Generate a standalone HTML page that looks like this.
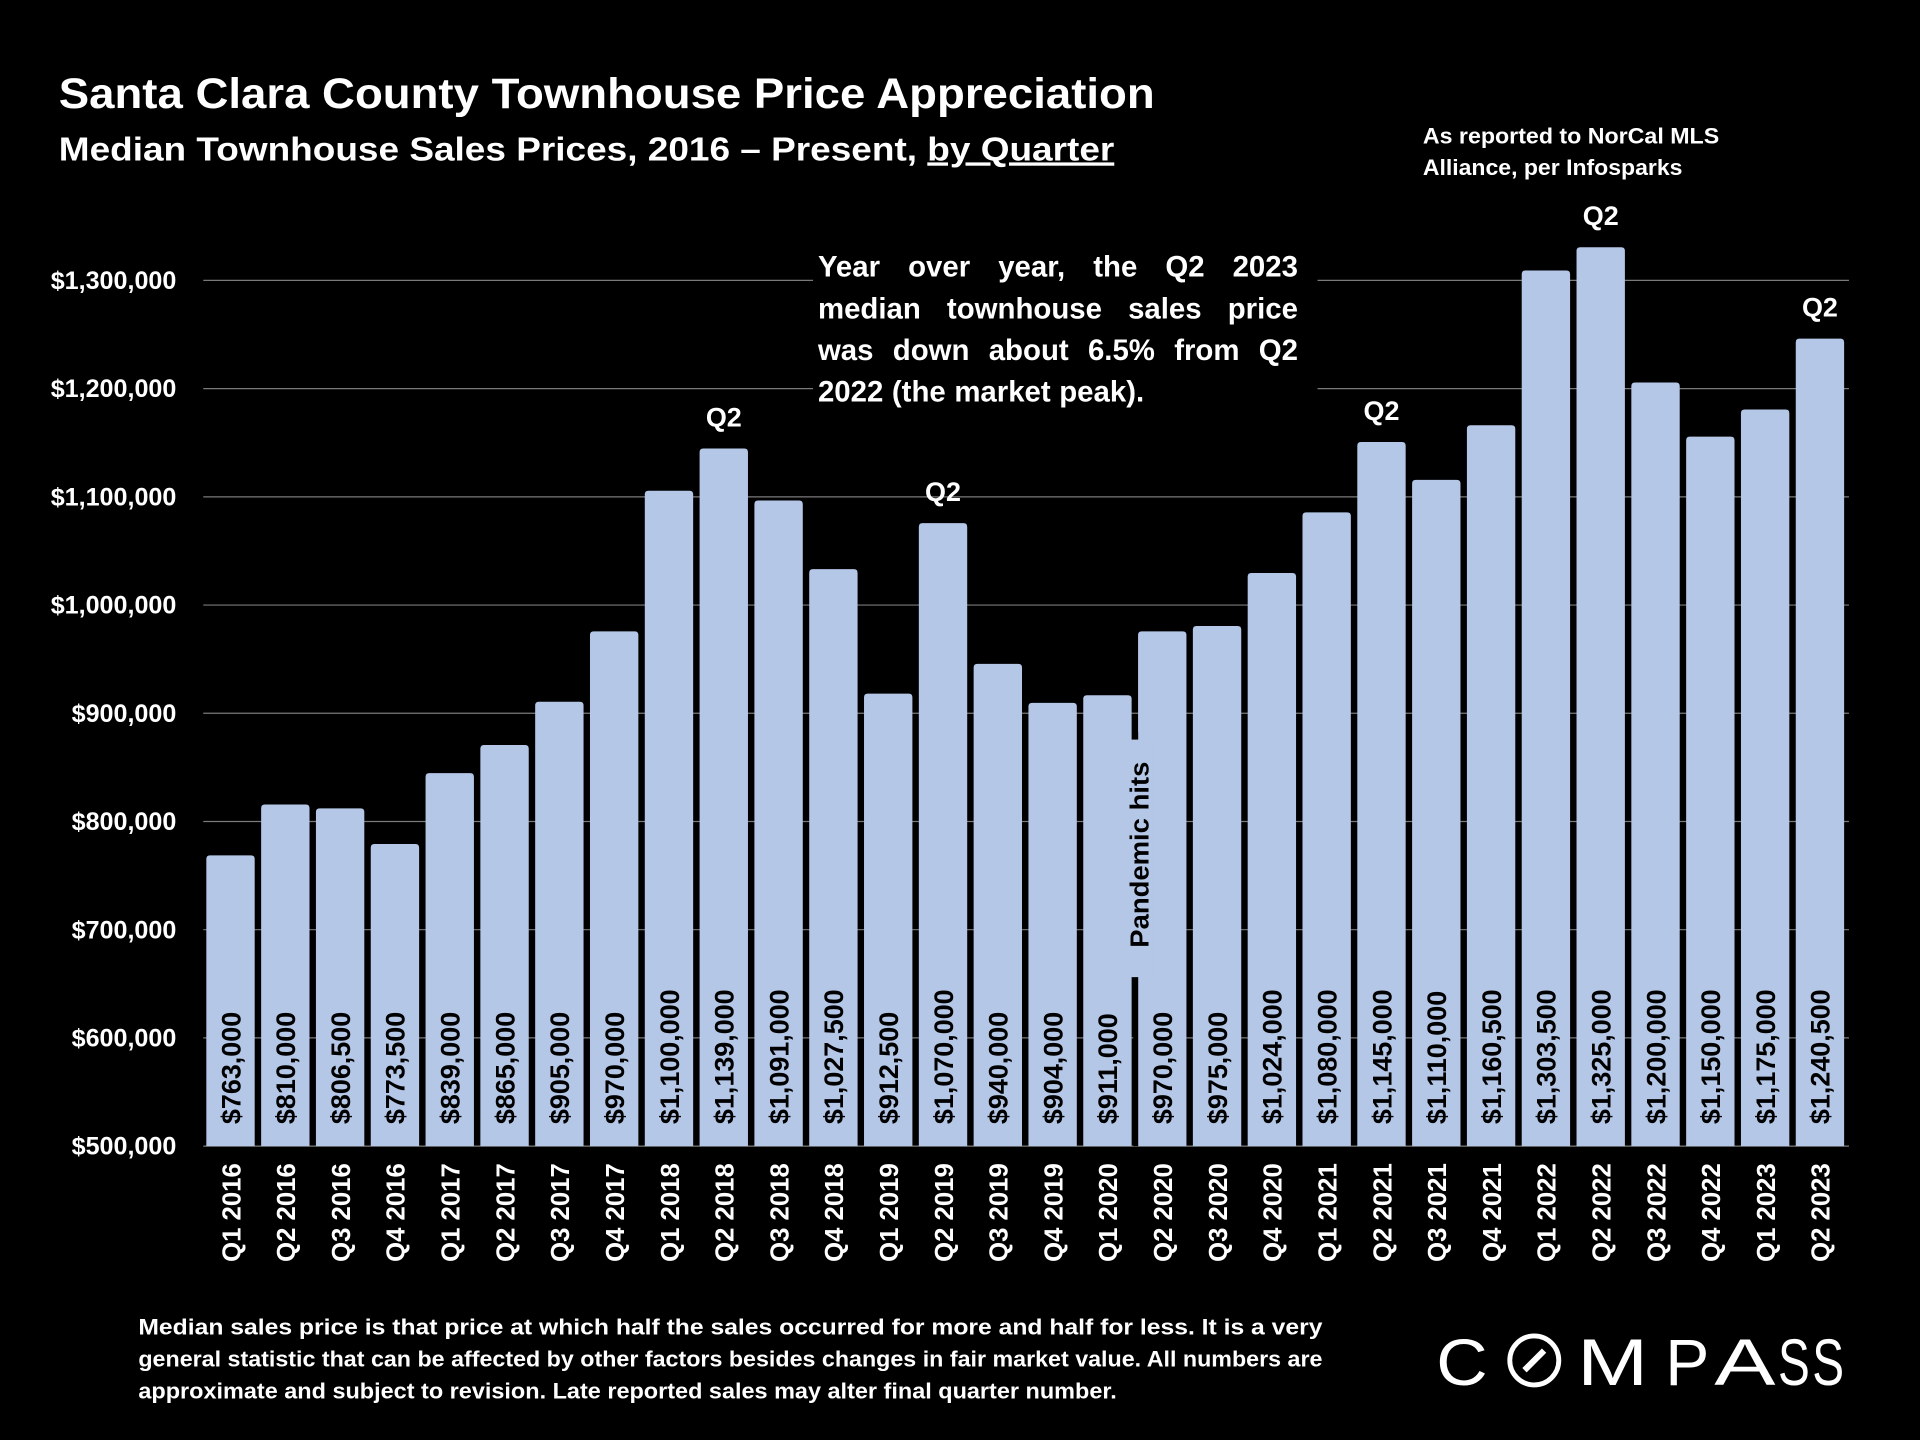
<!DOCTYPE html>
<html><head><meta charset="utf-8"><style>html,body{margin:0;padding:0;background:#000;width:1920px;height:1440px;overflow:hidden}svg{display:block}text{font-family:"Liberation Sans",sans-serif;font-weight:bold}</style></head>
<body>
<svg id="chart" width="1920" height="1440" viewBox="0 0 1568 1176" xmlns="http://www.w3.org/2000/svg">
<rect width="1568" height="1176" fill="#000"/>
<text x="48" y="88" fill="#fff" font-size="35" textLength="895" lengthAdjust="spacingAndGlyphs">Santa Clara County Townhouse Price Appreciation</text>
<text x="48" y="131" fill="#fff" font-size="27" textLength="862" lengthAdjust="spacingAndGlyphs">Median Townhouse Sales Prices, 2016 – Present, <tspan text-decoration="underline">by Quarter</tspan></text>
<text x="1162" y="117" fill="#fff" font-size="18" textLength="242" lengthAdjust="spacingAndGlyphs">As reported to NorCal MLS</text>
<text x="1162" y="143" fill="#fff" font-size="18" textLength="212" lengthAdjust="spacingAndGlyphs">Alliance, per Infosparks</text>
<g id="grid"></g>
<g id="yaxis"></g>
<rect x="664" y="195" width="412" height="150" fill="#000"/>
<g id="annot" fill="#fff" font-size="24"></g>
<g id="bars"></g>
<g id="pandemic">
<rect x="925.5" y="598" width="4" height="338" fill="#000"/>
<rect x="917" y="604" width="24" height="194" fill="#b4c7e7"/>
<text x="0" y="0" transform="translate(938,698) rotate(-90)" text-anchor="middle" font-size="21" fill="#000" textLength="152" lengthAdjust="spacingAndGlyphs">Pandemic hits</text>
</g>
<g fill="#fff" font-size="18">
<text x="113" y="1090" textLength="967" lengthAdjust="spacingAndGlyphs">Median sales price is that price at which half the sales occurred for more and half for less. It is a very</text>
<text x="113" y="1116" textLength="967" lengthAdjust="spacingAndGlyphs">general statistic that can be affected by other factors besides changes in fair market value. All numbers are</text>
<text x="113" y="1142" textLength="799" lengthAdjust="spacingAndGlyphs">approximate and subject to revision. Late reported sales may alter final quarter number.</text>
</g>
<g fill="#fff" font-size="54">
<text style="font-weight:normal" x="1173" y="1131" textLength="42" lengthAdjust="spacingAndGlyphs">C</text>
<circle cx="1253" cy="1111" r="20" fill="none" stroke="#fff" stroke-width="4"/>
<line x1="1245" y1="1119" x2="1261" y2="1103" stroke="#fff" stroke-width="5"/>
<text style="font-weight:normal" x="1288" y="1131" textLength="58" lengthAdjust="spacingAndGlyphs">M</text>
<text style="font-weight:normal" x="1360" y="1131" textLength="36" lengthAdjust="spacingAndGlyphs">P</text>
<text style="font-weight:normal" x="1400" y="1131" textLength="50" lengthAdjust="spacingAndGlyphs">A</text>
<text style="font-weight:normal" x="1452" y="1131" textLength="26" lengthAdjust="spacingAndGlyphs">S</text>
<text style="font-weight:normal" x="1480" y="1131" textLength="26" lengthAdjust="spacingAndGlyphs">S</text>
</g>
<text x="0" y="0" id="measure" font-size="24" fill="none">x</text>
</svg>
<script>
const categories=["Q1 2016","Q2 2016","Q3 2016","Q4 2016","Q1 2017","Q2 2017","Q3 2017","Q4 2017","Q1 2018","Q2 2018","Q3 2018","Q4 2018","Q1 2019","Q2 2019","Q3 2019","Q4 2019","Q1 2020","Q2 2020","Q3 2020","Q4 2020","Q1 2021","Q2 2021","Q3 2021","Q4 2021","Q1 2022","Q2 2022","Q3 2022","Q4 2022","Q1 2023","Q2 2023"];
const values=[763000,810000,806500,773500,839000,865000,905000,970000,1100000,1139000,1091000,1027500,912500,1070000,940000,904000,911000,970000,975000,1024000,1080000,1145000,1110000,1160500,1303500,1325000,1200000,1150000,1175000,1240500];
const valueLabels=["$763,000","$810,000","$806,500","$773,500","$839,000","$865,000","$905,000","$970,000","$1,100,000","$1,139,000","$1,091,000","$1,027,500","$912,500","$1,070,000","$940,000","$904,000","$911,000","$970,000","$975,000","$1,024,000","$1,080,000","$1,145,000","$1,110,000","$1,160,500","$1,303,500","$1,325,000","$1,200,000","$1,150,000","$1,175,000","$1,240,500"];
const yTicks=[500000,600000,700000,800000,900000,1000000,1100000,1200000,1300000];
const yTickLabels=["$500,000","$600,000","$700,000","$800,000","$900,000","$1,000,000","$1,100,000","$1,200,000","$1,300,000"];
const q2Highlights=["Q2 2018","Q2 2019","Q2 2021","Q2 2022","Q2 2023"];
const annotLines=["Year over year, the Q2 2023","median townhouse sales price","was down about 6.5% from Q2","2022 (the market peak)."];
const NS="http://www.w3.org/2000/svg";
const y=v=>936-(v-500000)/100000*88.375;
const x0=168.5,pitch=44.76,bw=39.5;
const xb=i=>x0+i*pitch;
function mk(tag,attrs,parent){const e=document.createElementNS(NS,tag);for(const k in attrs)e.setAttribute(k,attrs[k]);parent.appendChild(e);return e;}
const grid=document.getElementById('grid'),ya=document.getElementById('yaxis'),bars=document.getElementById('bars'),annot=document.getElementById('annot'),meas=document.getElementById('measure');
yTicks.forEach((t,i)=>{
 const l=mk('line',{x1:166,x2:1510,y1:y(t),y2:y(t),stroke:'#7a7a7a','stroke-width':1},grid);
 
 
 const tx=mk('text',{x:144,y:y(t)+7,'text-anchor':'end',fill:'#fff','font-size':20.5},ya);
 tx.textContent=yTickLabels[i];
 
 
});
function wlen(w){meas.textContent=w;return meas.getComputedTextLength();}
annotLines.forEach((ln,li)=>{
 const words=ln.split(' '),yy=226+li*34;
 const last=li===annotLines.length-1;
 const ws=words.map(wlen),sum=ws.reduce((a,b)=>a+b,0);
 const gap=last?7:(392-sum)/(words.length-1);
 let cx=668;
 words.forEach((w,k)=>{
  const t=mk('text',{x:cx,y:yy},annot);
  t.textContent=w;
  
  
  cx+=ws[k]+gap;
 });
});
categories.forEach((c,i)=>{
 const bx=xb(i),top=y(values[i])-5;
 const r=mk('path',{d:`M${bx},936 L${bx},${top+3} Q${bx},${top} ${bx+3},${top} L${bx+bw-3},${top} Q${bx+bw},${top} ${bx+bw},${top+3} L${bx+bw},936 Z`,fill:'#b4c7e7'},bars);
 
 
 const cx=bx+bw/2;
 const vl=mk('text',{transform:`translate(${cx+8},918) rotate(-90)`,fill:'#000','font-size':22},bars);
 vl.textContent=valueLabels[i];
 
 
 const xl=mk('text',{transform:`translate(${cx+8},950) rotate(-90)`,'text-anchor':'end',fill:'#fff','font-size':21},bars);
 xl.textContent=c;
 
 
 if(q2Highlights.includes(c)){
  const q=mk('text',{x:cx,y:top-18,'text-anchor':'middle',fill:'#fff','font-size':22},bars);
  q.textContent='Q2';
  
  
 }
});
</script>
</body></html>
